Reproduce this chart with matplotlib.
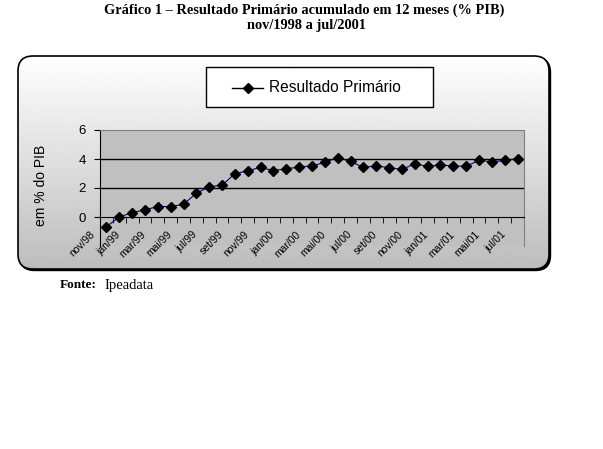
import matplotlib
matplotlib.use("Agg")
import matplotlib.pyplot as plt
import numpy as np
from matplotlib.patches import FancyBboxPatch
from matplotlib.transforms import ScaledTranslation

meses = ["nov/98", "dez/98",
         "jan/99", "fev/99", "mar/99", "abr/99", "mai/99", "jun/99",
         "jul/99", "ago/99", "set/99", "out/99", "nov/99", "dez/99",
         "jan/00", "fev/00", "mar/00", "abr/00", "mai/00", "jun/00",
         "jul/00", "ago/00", "set/00", "out/00", "nov/00", "dez/00",
         "jan/01", "fev/01", "mar/01", "abr/01", "mai/01", "jun/01", "jul/01"]
resultado = [-0.67, 0.0,
             0.30, 0.50, 0.72, 0.72, 0.88, 1.64,
             2.08, 2.20, 2.98, 3.19, 3.42, 3.20,
             3.33, 3.44, 3.53, 3.76, 4.10, 3.83,
             3.42, 3.53, 3.40, 3.28, 3.67, 3.49,
             3.60, 3.51, 3.51, 3.90, 3.81, 3.90, 4.02]

W, H = 603, 449
fig = plt.figure(figsize=(W/100, H/100), dpi=100)

# fundo do grafico (caixa arredondada com gradiente e sombra)
bg = fig.add_axes([0, 0, 1, 1])
bg.set_xlim(0, W)
bg.set_ylim(H, 0)
bg.axis("off")
x0, y0, x1, y1 = 18, 56, 549, 269
shadow = FancyBboxPatch((x0+1.5, y0+1.5), x1-x0, y1-y0, boxstyle="round,pad=0,rounding_size=15",
                        facecolor="black", edgecolor="black", lw=1)
bg.add_patch(shadow)
box = FancyBboxPatch((x0, y0), x1-x0, y1-y0, boxstyle="round,pad=0,rounding_size=15",
                     facecolor="none", edgecolor="black", lw=1.2, zorder=3)
bg.add_patch(box)
grad = np.linspace(1.0, 0.74, 256).reshape(-1, 1)
img = bg.imshow(grad, cmap="gray", vmin=0, vmax=1, extent=(x0, x1, y1, y0),
                aspect="auto", zorder=2)
clip = FancyBboxPatch((x0, y0), x1-x0, y1-y0, boxstyle="round,pad=0,rounding_size=15",
                      transform=bg.transData, facecolor="none", edgecolor="none")
bg.add_patch(clip)
img.set_clip_path(clip)

# legenda
leg = FancyBboxPatch((206, 67), 227, 40, boxstyle="square,pad=0",
                     facecolor="white", edgecolor="black", lw=1, zorder=4)
bg.add_patch(leg)
bg.plot([232, 263], [87.5, 87.5], color="black", lw=1, zorder=5)
bg.plot([247.5], [87.5], marker="D", color="black", ms=5.5, zorder=5)
bg.text(269, 88, "Resultado Primário", fontsize=11.2, family="Liberation Sans",
        va="center", ha="left", zorder=5)

# titulo e fonte
fig.text(304/W, 1-10/H, "Gráfico 1 – Resultado Primário acumulado em 12 meses (% PIB)",
         family="Liberation Serif", weight="bold", fontsize=10.4, ha="center", va="center")
fig.text(306/W, 1-26/H, "nov/1998 a jul/2001",
         family="Liberation Serif", weight="bold", fontsize=10.4, ha="center", va="center")
fig.text(60/W, 1-285/H, "Fonte:", family="Liberation Serif", weight="bold",
         fontsize=9.5, ha="left", va="center")
fig.text(104/W, 1-285/H, "Ipeadata", family="Liberation Serif",
         fontsize=10.5, ha="left", va="center")

# area do grafico
ax = fig.add_axes([100/W, 1-246/H, 424/W, 116/H])
ax.set_facecolor("#c0c0c0")
x = np.arange(len(meses))
ax.plot(x, resultado, color="#000080", lw=0.8, marker="D", ms=5,
        markerfacecolor="black", markeredgecolor="black", zorder=4)
ax.set_xlim(-0.5, len(meses)-0.5)
ax.set_ylim(-2, 6)
ax.set_yticks([0, 2, 4, 6])
for g in [2, 4]:
    ax.axhline(g, color="black", lw=1, zorder=2)
for s in ["top", "right"]:
    ax.spines[s].set_color("#808080")
ax.spines["left"].set_color("black")
ax.spines["bottom"].set_position(("data", 0))
ax.spines["bottom"].set_color("black")
ax.spines["bottom"].set_zorder(3)

ax.set_xticks(x[::2])
ax.set_xticklabels(meses[::2], rotation=45, ha="right", va="top",
                   fontsize=7.5, family="Liberation Sans")
ax.set_xticks(x[:-1] + 0.5, minor=True)
ax.tick_params(axis="x", which="major", length=0, pad=9)
ax.tick_params(axis="x", which="minor", length=4, direction="out", color="black")
ax.tick_params(axis="y", length=4, color="black", labelsize=9.5, pad=6)
for lab in ax.get_yticklabels():
    lab.set_family("Liberation Sans")
off = ScaledTranslation(-0.1, 0, fig.dpi_scale_trans)
for lab in ax.get_xticklabels():
    lab.set_transform(lab.get_transform() + off)

ax.set_ylabel("em % do PIB", fontsize=10, family="Liberation Sans")
ax.yaxis.set_label_coords(-52/424, 0.52)

fig.savefig("out.png", dpi=100)
